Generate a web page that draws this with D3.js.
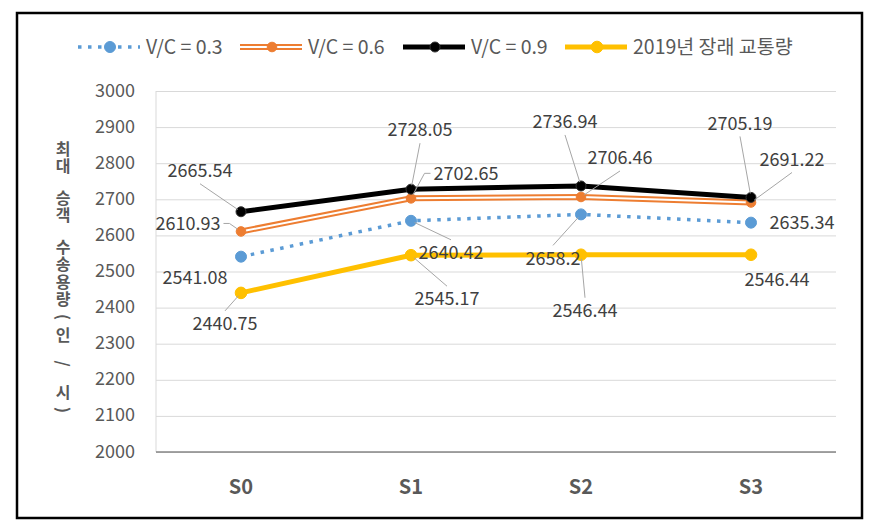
<!DOCTYPE html>
<html>
<head>
<meta charset="utf-8">
<script src="https://cdn.jsdelivr.net/npm/d3@7"></script>
<style>
  body { margin: 0; background: #fff; }
  text { font-family: "Noto Sans CJK KR", "Noto Sans", sans-serif; }
</style>
</head>
<body>
<svg id="chart"></svg>
<script>
const categories = ['S0', 'S1', 'S2', 'S3']
const vc03 = [2541.08, 2640.42, 2658.2, 2635.34]
const vc06 = [2610.93, 2702.65, 2706.46, 2691.22]
const vc09 = [2665.54, 2728.05, 2736.94, 2705.19]
const forecast2019 = [2440.75, 2545.17, 2546.44, 2546.44]
const seriesNames = ['V/C = 0.3', 'V/C = 0.6', 'V/C = 0.9', '2019년 장래 교통량']
const yTicks = d3.range(2000, 3001, 100)
const yTitle = '최대 승객 수송용량(인/시)'

// where each data label sits relative to its point: [dx, dy, leader side]
const labelLayout = {
    vc03: [[-46, 21, null], [40, 32, 't'], [-28, 44, 't'], [51, 0, null]],
    vc06: [[-53, -8, 'r'], [55, -25, 'l'], [39, -39, 'b'], [41, -43, 'b']],
    vc09: [[-41, -41, 'b'], [9, -59, 'b'], [-16, -64, 'b'], [-11, -74, 'b']],
    forecast2019: [[-16, 31, 't'], [36, 44, 't'], [4, 56, 't'], [26, 25, null]]
}

const W = 877, H = 523
const svg = d3.select('#chart').attr('width', W).attr('height', H)

// chart frame
svg.append('rect')
    .attr('x', 17).attr('y', 13)
    .attr('width', 845).attr('height', 505)
    .attr('fill', '#fff')
    .attr('stroke', '#000')
    .attr('stroke-width', 2.5)

const x = d3.scalePoint().domain(categories).range([156, 836]).padding(0.5)
const y = d3.scaleLinear().domain([2000, 3000]).range([452, 91])

// grid + y labels
const yAxis = svg.append('g')
    .attr('transform', 'translate(156,0)')
    .call(d3.axisLeft(y).tickValues(yTicks).tickSize(-680).tickPadding(21).tickFormat(d3.format('d')))
yAxis.select('.domain').remove()
yAxis.selectAll('line').attr('stroke', '#d9d9d9').attr('stroke-width', 1)
yAxis.selectAll('text')
    .attr('fill', '#595959')
    .attr('font-size', 18)
    .attr('dy', '0.28em')

// left axis line and bottom axis line
svg.append('line')
    .attr('x1', 156).attr('x2', 156)
    .attr('y1', y(3000)).attr('y2', y(2000))
    .attr('stroke', '#d9d9d9')
svg.append('line')
    .attr('x1', 156).attr('x2', 836)
    .attr('y1', y(2000)).attr('y2', y(2000))
    .attr('stroke', '#868686').attr('stroke-width', 1.3)

// x labels
svg.append('g').selectAll('text').data(categories).enter()
    .append('text')
    .attr('x', d => x(d))
    .attr('y', 494)
    .attr('text-anchor', 'middle')
    .attr('font-size', 20)
    .attr('font-weight', 'bold')
    .attr('fill', '#595959')
    .text(d => d)

// y title: one glyph per step, going down; brackets and slash lie on their side
const advance = c => c === ' ' ? 14 : (c === '(' || c === ')') ? 18 : c === '/' ? 40 : 17.5
const chars = Array.from(yTitle)
let cy = 140
const titleG = svg.append('g')
chars.forEach((c, i) => {
    const a = advance(c)
    const mid = cy + a / 2
    cy += a
    if (c === ' ') return
    const rotated = c === '(' || c === ')' || c === '/'
    titleG.append('text')
        .attr('transform', `translate(63,${mid}) rotate(${rotated ? 90 : 0})`)
        .attr('text-anchor', 'middle')
        .attr('dy', '0.36em')
        .attr('font-size', 16)
        .attr('font-weight', 'bold')
        .attr('fill', '#595959')
        .text(c)
})

const series = [
    { key: 'vc03', values: vc03, color: '#5b9bd5', r: 5.5 },
    { key: 'vc06', values: vc06, color: '#ed7d31', r: 4.8 },
    { key: 'vc09', values: vc09, color: '#000000', r: 5 },
    { key: 'forecast2019', values: forecast2019, color: '#ffc000', r: 5.8 }
]

const line = d3.line().x((d, i) => x(categories[i])).y(d => y(d))

const drawStroke = (g, s, pathData) => {
    if (s.key === 'vc03') {
        g.append('path').attr('d', pathData).attr('fill', 'none')
            .attr('stroke', s.color).attr('stroke-width', 3.5)
            .attr('stroke-dasharray', '3.5 6.5')
    } else if (s.key === 'vc06') {
        g.append('path').attr('d', pathData).attr('fill', 'none')
            .attr('stroke', s.color).attr('stroke-width', 6)
        g.append('path').attr('d', pathData).attr('fill', 'none')
            .attr('stroke', '#fff').attr('stroke-width', 2)
    } else {
        g.append('path').attr('d', pathData).attr('fill', 'none')
            .attr('stroke', s.color).attr('stroke-width', 5)
            .attr('stroke-linejoin', 'round')
    }
}

series.forEach(s => {
    const g = svg.append('g')
    drawStroke(g, s, line(s.values))
    g.selectAll('circle').data(s.values).enter()
        .append('circle')
        .attr('cx', (d, i) => x(categories[i]))
        .attr('cy', d => y(d))
        .attr('r', s.r)
        .attr('fill', s.color)
        .attr('stroke', s.key === 'vc09' ? '#333' : s.color)
        .attr('stroke-width', 1)
})

// data labels with leader lines
const leaders = svg.append('g')
const labels = svg.append('g')
series.forEach(s => {
    s.values.forEach((v, i) => {
        const px = x(categories[i]), py = y(v)
        const [dx, dy, side] = labelLayout[s.key][i]
        const tx = px + dx, ty = py + dy
        const t = labels.append('text')
            .attr('x', tx).attr('y', ty)
            .attr('dy', '0.35em')
            .attr('text-anchor', 'middle')
            .attr('font-size', 18)
            .attr('fill', '#404040')
            .text(String(v))
        if (!side) return
        const hw = t.node().getComputedTextLength() / 2
        const hh = 9
        let pts
        if (side === 'b') pts = [[tx, ty + hh + 4]]
        else if (side === 't') pts = [[tx, ty - hh - 4]]
        else if (side === 'l') pts = [[tx - hw - 3, ty], [tx - hw - 9, ty]]
        else pts = [[tx + hw + 3, ty], [tx + hw + 9, ty]]
        const last = pts[pts.length - 1]
        const len = Math.hypot(px - last[0], py - last[1])
        const k = Math.max(0, (len - 4) / len)
        pts.push([last[0] + (px - last[0]) * k, last[1] + (py - last[1]) * k])
        leaders.append('path')
            .attr('d', d3.line()(pts))
            .attr('fill', 'none')
            .attr('stroke', '#a6a6a6')
            .attr('stroke-width', 1)
    })
})

// legend, one slot per series
const legendX = [78, 240, 403, 565]
const ly = 47
series.forEach((s, i) => {
    const lx = legendX[i]
    const g = svg.append('g')
    drawStroke(g, s, d3.line()([[lx, ly], [lx + 62, ly]]))
    g.append('circle')
        .attr('cx', lx + 32).attr('cy', ly).attr('r', s.r)
        .attr('fill', s.color)
        .attr('stroke', s.key === 'vc09' ? '#333' : s.color)
    g.append('text')
        .attr('x', lx + 68).attr('y', ly)
        .attr('dy', '0.35em')
        .attr('font-size', 19.5)
        .attr('fill', '#595959')
        .text(seriesNames[i])
})
</script>
</body>
</html>
